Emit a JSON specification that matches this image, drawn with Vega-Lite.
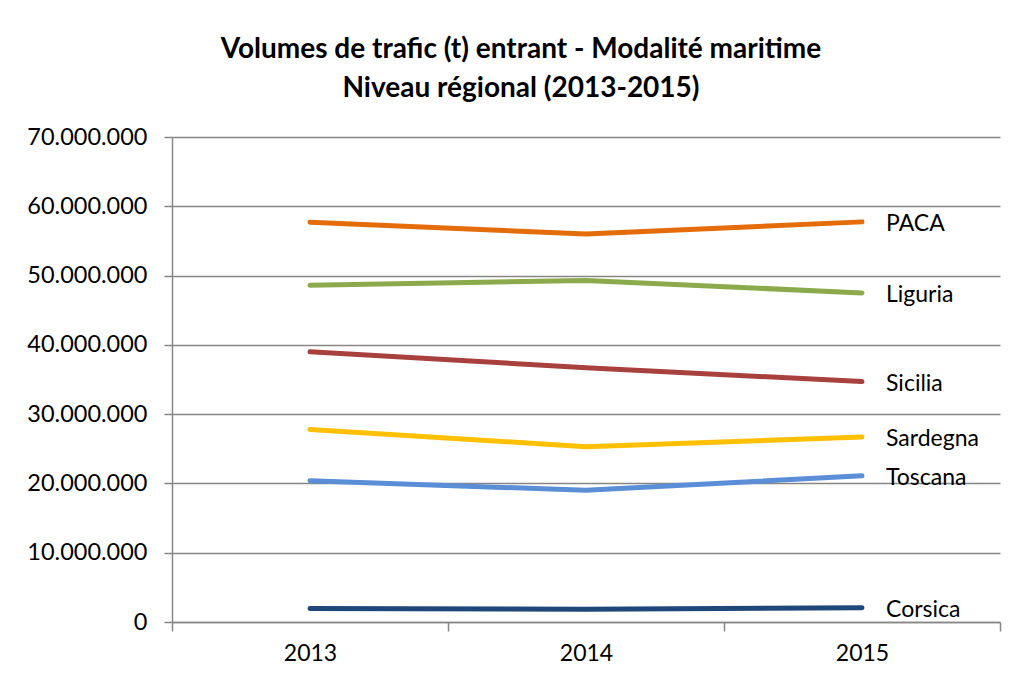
{
  "$schema": "https://vega.github.io/schema/vega-lite/v6.json",
  "width": 828,
  "height": 485,
  "autosize": {"type": "none"},
  "padding": {"left": 172, "top": 137, "right": 20, "bottom": 63},
  "background": "white",
  "config": {
    "font": "Lato",
    "view": {"stroke": null},
    "locale": {"number": {"decimal": ",", "thousands": ".", "grouping": [3], "currency": ["", ""]}}
  },
  "title": {
    "text": ["Volumes de trafic (t) entrant - Modalité maritime", "Niveau régional (2013-2015)"],
    "font": "Lato",
    "fontSize": 28,
    "fontWeight": "bold",
    "color": "#000000",
    "anchor": "middle",
    "frame": "group",
    "dx": -65,
    "offset": 22,
    "lineHeight": 39
  },
  "data": {
    "values": [
      {"region": "PACA", "year": "2013", "value": 57700000},
      {"region": "PACA", "year": "2014", "value": 56000000},
      {"region": "PACA", "year": "2015", "value": 57750000},
      {"region": "Liguria", "year": "2013", "value": 48600000},
      {"region": "Liguria", "year": "2014", "value": 49300000},
      {"region": "Liguria", "year": "2015", "value": 47500000},
      {"region": "Sicilia", "year": "2013", "value": 39000000},
      {"region": "Sicilia", "year": "2014", "value": 36700000},
      {"region": "Sicilia", "year": "2015", "value": 34700000},
      {"region": "Sardegna", "year": "2013", "value": 27800000},
      {"region": "Sardegna", "year": "2014", "value": 25300000},
      {"region": "Sardegna", "year": "2015", "value": 26700000},
      {"region": "Toscana", "year": "2013", "value": 20400000},
      {"region": "Toscana", "year": "2014", "value": 19000000},
      {"region": "Toscana", "year": "2015", "value": 21100000},
      {"region": "Corsica", "year": "2013", "value": 1950000},
      {"region": "Corsica", "year": "2014", "value": 1850000},
      {"region": "Corsica", "year": "2015", "value": 2050000}
    ]
  },
  "encoding": {
    "x": {
      "field": "year",
      "type": "ordinal",
      "bandPosition": 0.5,
      "scale": {"type": "band", "paddingInner": 0, "paddingOuter": 0},
      "axis": {
        "title": null,
        "labelAngle": 0,
        "labelFont": "Lato",
        "labelFontSize": 23,
        "labelColor": "#000000",
        "labelPadding": 11,
        "bandPosition": 0,
        "tickBand": "extent",
        "ticks": true,
        "tickSize": 9,
        "tickColor": "#868686",
        "tickWidth": 1.5,
        "domainColor": "#868686",
        "domainWidth": 1.5,
        "grid": false
      }
    },
    "y": {
      "field": "value",
      "type": "quantitative",
      "scale": {"domain": [0, 70000000], "nice": false},
      "axis": {
        "title": null,
        "values": [0, 10000000, 20000000, 30000000, 40000000, 50000000, 60000000, 70000000],
        "format": ",d",
        "labelFont": "Lato",
        "labelFontSize": 23.5,
        "labelColor": "#000000",
        "labelPadding": 17,
        "tickSize": 8,
        "tickColor": "#868686",
        "tickWidth": 1.5,
        "domainColor": "#868686",
        "domainWidth": 1.5,
        "grid": true,
        "gridColor": "#868686",
        "gridWidth": 1.5
      }
    },
    "color": {
      "field": "region",
      "type": "nominal",
      "legend": null,
      "scale": {
        "domain": ["PACA", "Liguria", "Sicilia", "Sardegna", "Toscana", "Corsica"],
        "range": ["#E46C0A", "#8BAA4B", "#A8413E", "#FFC000", "#5A8ED6", "#1F477A"]
      }
    }
  },
  "layer": [
    {
      "mark": {"type": "line", "strokeWidth": 5, "strokeCap": "round", "strokeJoin": "round"},
      "encoding": {"detail": {"field": "region"}}
    },
    {
      "transform": [{"filter": "datum.year == '2015'"}],
      "mark": {"type": "text", "align": "left", "baseline": "middle", "dx": 24, "dy": 2, "font": "Lato", "fontSize": 23, "color": "#000000"},
      "encoding": {
        "text": {"field": "region"},
        "color": {"value": "#000000"}
      }
    }
  ]
}
